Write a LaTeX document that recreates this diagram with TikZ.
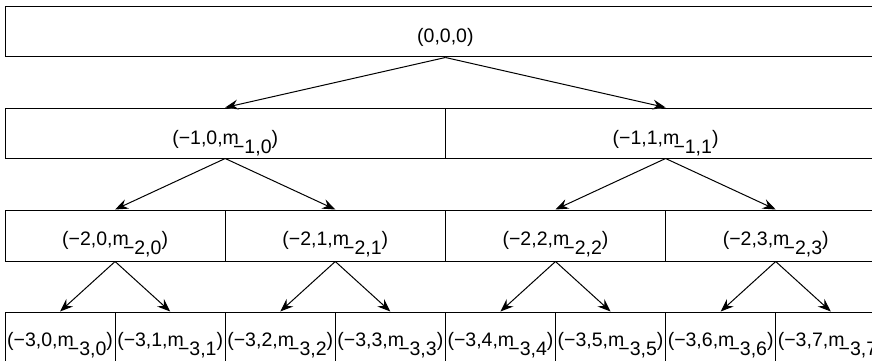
\documentclass[tikz,border=0pt]{standalone}
\usepackage{fontspec}
\setmainfont{Liberation Sans}
\usetikzlibrary{arrows.meta}
\newcommand\mlab[2]{(−#1,#2,m\kern-0.3em\raisebox{-0.5em}{−#1,#2})}
\begin{document}
\begin{tikzpicture}[x=1pt,y=-1pt,
  box/.style={draw=black,line width=1pt,rectangle,inner sep=0pt},
  lab/.style={anchor=base,inner sep=0pt,font=\fontsize{19.5}{22}\selectfont},
  arr/.style={line width=1pt,-{Stealth[length=13pt,width=10pt,inset=4.5pt]},
    preaction={draw=white,line width=3pt,shorten <=14pt}}]
\useasboundingbox (0,0) rectangle (872,361);
\fill[white] (0,0) rectangle (872,361);
\clip (0,0) rectangle (872,361);
% row 0
\node[box,minimum width=880.8pt,minimum height=50pt] (n0) at (445.4,32) {};
\node[lab] (t0) at (445.4,42) {(0,0,0)};
% row 1
\foreach \i in {0,1}{
  \node[box,minimum width=440.4pt,minimum height=50pt] (n1\i) at ({225.2+440.4*\i},133) {};
  \node[lab] (t1\i) at ({225.2+440.4*\i},144) {\mlab{1}{\i}};
}
% row 2
\foreach \i in {0,...,3}{
  \node[box,minimum width=220.2pt,minimum height=51pt] (n2\i) at ({115.1+220.2*\i},235.5) {};
  \node[lab] (t2\i) at ({115.1+220.2*\i},245) {\mlab{2}{\i}};
}
% row 3
\foreach \i in {0,...,7}{
  \node[box,minimum width=110.1pt,minimum height=60pt] (n3\i) at ({60.05+110.1*\i},342) {};
  \node[lab] (t3\i) at ({60.05+110.1*\i},346) {\mlab{3}{\i}};
}
% arrows
\foreach \c in {0,1}{\draw[arr] (n0.south) -- (n1\c.north);}
\foreach \c/\p in {0/0,1/0,2/1,3/1}{\draw[arr] (n1\p.south) -- (n2\c.north);}
\foreach \c/\p in {0/0,1/0,2/1,3/1,4/2,5/2,6/3,7/3}{\draw[arr] (n2\p.south) -- (n3\c.north);}
\end{tikzpicture}
\end{document}
